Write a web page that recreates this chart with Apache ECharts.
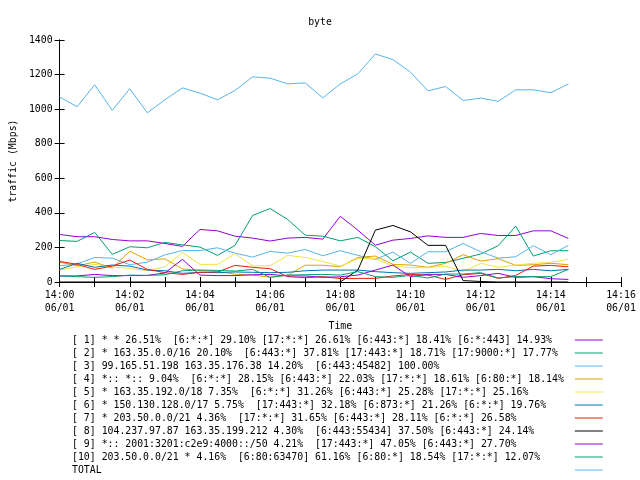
<!DOCTYPE html>
<html>
<head>
<meta charset="utf-8">
<script src="https://cdn.jsdelivr.net/npm/echarts@6/dist/echarts.min.js"></script>
<style>
html,body{margin:0;padding:0;background:#fff;}
#chart{width:640px;height:480px;}
</style>
</head>
<body>
<div id="chart"></div>
<script>
const chartTitle = 'byte';
const dateLabel = '06/01';
const xTickLabels = ['14:00','14:02','14:04','14:06','14:08','14:10','14:12','14:14','14:16'];
const yTicks = [0, 200, 400, 600, 800, 1000, 1200, 1400];
const times = ['14:00:00','14:00:30','14:01:00','14:01:30','14:02:00','14:02:30','14:03:00','14:03:30','14:04:00','14:04:30',
               '14:05:00','14:05:30','14:06:00','14:06:30','14:07:00','14:07:30','14:08:00','14:08:30','14:09:00','14:09:30',
               '14:10:00','14:10:30','14:11:00','14:11:30','14:12:00','14:12:30','14:13:00','14:13:30','14:14:00','14:14:30'];

const names = [
  '[ 1] * * 26.51%  [6:*:*] 29.10% [17:*:*] 26.61% [6:443:*] 18.41% [6:*:443] 14.93%',
  '[ 2] * 163.35.0.0/16 20.10%  [6:443:*] 37.81% [17:443:*] 18.71% [17:9000:*] 17.77%',
  '[ 3] 99.165.51.198 163.35.176.38 14.20%  [6:443:45482] 100.00%',
  '[ 4] *:: *:: 9.04%  [6:*:*] 28.15% [6:443:*] 22.03% [17:*:*] 18.61% [6:80:*] 18.14%',
  '[ 5] * 163.35.192.0/18 7.35%  [6:*:*] 31.26% [6:443:*] 25.28% [17:*:*] 25.16%',
  '[ 6] * 150.130.128.0/17 5.75%  [17:443:*] 32.18% [6:873:*] 21.26% [6:*:*] 19.76%',
  '[ 7] * 203.50.0.0/21 4.36%  [17:*:*] 31.65% [6:443:*] 28.11% [6:*:*] 26.58%',
  '[ 8] 104.237.97.87 163.35.199.212 4.30%  [6:443:55434] 37.50% [6:443:*] 24.14%',
  '[ 9] *:: 2001:3201:c2e9:4000::/50 4.21%  [17:443:*] 47.05% [6:443:*] 27.70%',
  '[10] 203.50.0.0/21 * 4.16%  [6:80:63470] 61.16% [6:80:*] 18.54% [17:*:*] 12.07%',
  'TOTAL'
];
const colors = ['#9400d3','#009e73','#56b4e9','#e69f00','#f0e442','#0072b2','#e51e10','#000000','#9400d3','#009e73','#56b4e9'];

const s1 = [275,262,262,246,238,238,223,206,304,296,265,254,237,254,258,248,380,300,213,242,252,267,258,258,281,269,269,296,296,252];
const s2 = [240,235,287,160,204,198,229,215,202,154,212,385,425,362,271,265,238,258,204,123,173,108,113,137,162,210,323,150,181,181];
const s3 = [94,105,142,138,100,115,157,182,182,198,167,144,177,167,188,152,181,154,131,173,108,175,175,223,175,138,146,210,158,212];
const s4 = [115,94,115,80,178,128,134,76,67,62,45,40,28,39,97,97,88,142,150,102,98,85,108,158,121,135,96,100,108,100];
const s5 = [69,88,102,87,79,65,88,171,102,102,163,94,94,154,142,119,92,135,135,92,83,83,92,60,108,85,98,108,115,131];
const s6 = [73,108,85,98,92,69,65,50,56,54,58,56,54,56,65,69,69,69,60,54,50,54,58,69,69,73,65,73,65,73];
const s7 = [119,102,73,92,127,73,54,44,56,58,96,85,77,31,25,31,20,21,21,35,44,40,15,42,50,21,38,92,96,88];
const s8 = [0,0,0,0,0,0,0,0,0,0,0,0,0,0,0,0,0,69,300,327,290,212,212,8,3,0,0,0,0,0];
const s9 = [35,35,44,37,37,38,52,131,40,37,37,42,44,35,35,27,30,40,69,98,31,44,44,27,37,50,27,31,19,15];
const s10 = [35,31,27,31,40,38,42,65,69,67,63,73,27,40,42,44,40,60,31,27,38,23,46,46,54,23,31,31,31,73];
const total = [1070,1014,1141,993,1118,979,1054,1123,1093,1054,1108,1187,1179,1146,1152,1065,1146,1204,1319,1287,1214,1106,1131,1050,1064,1045,1112,1112,1095,1146];

const seriesValues = [s1,s2,s3,s4,s5,s6,s7,s8,s9,s10,total];

function toMinutes(t) {
  const p = t.split(':').map(Number);
  return p[0] * 60 + p[1] + p[2] / 60 - 14 * 60;
}
const xs = times.map(toMinutes);

const FONT = "'DejaVu Sans Mono', monospace";
const FS = 9.85;
const chart = echarts.init(document.getElementById('chart'), null, {renderer: 'canvas'});

const series = seriesValues.map((vals, k) => ({
  name: names[k],
  type: 'line',
  xAxisIndex: 0,
  yAxisIndex: 0,
  data: vals.map((v, i) => [xs[i], v]),
  symbol: 'none',
  animation: false,
  lineStyle: {width: 1, color: colors[k]},
  itemStyle: {color: colors[k]}
}));

const tickStyle = {show: true, inside: true, length: 5, lineStyle: {color: '#000', width: 1}};
const axisLineStyle = {show: true, lineStyle: {color: '#000', width: 1}};

chart.setOption({
  animation: false,
  backgroundColor: '#fff',
  title: {
    text: chartTitle, left: 'center', top: 12,
    textStyle: {fontFamily: FONT, fontSize: FS, fontWeight: 'normal', color: '#000'}
  },
  grid: {left: 58, right: 19, top: 40, height: 242, containLabel: false},
  legend: {
    orient: 'vertical', left: 72, top: 333.5, padding: 0, itemGap: 0,
    align: 'right', icon: 'rect', itemWidth: 28, itemHeight: 1,
    data: names,
    formatter: n => n.padEnd(84, ' '),
    textStyle: {fontFamily: FONT, fontSize: FS, color: '#000', lineHeight: 13},
    selectedMode: false
  },
  xAxis: [
    {
      type: 'value', min: 0, max: 16, interval: 1, position: 'bottom',
      name: 'Time', nameLocation: 'middle', nameGap: 39,
      nameTextStyle: {fontFamily: FONT, fontSize: FS, color: '#000'},
      axisLine: axisLineStyle, axisTick: tickStyle, splitLine: {show: false},
      axisLabel: {
        fontFamily: FONT, fontSize: FS, color: '#000', lineHeight: 13, margin: 7,
        showMinLabel: true, showMaxLabel: true,
        formatter: v => (v % 2 === 0 ? xTickLabels[v / 2] + '\n' + dateLabel : '')
      }
    },
    {
      type: 'value', min: 0, max: 16, interval: 1, position: 'top',
      axisLine: axisLineStyle, axisTick: tickStyle, splitLine: {show: false},
      axisLabel: {show: false}
    }
  ],
  yAxis: [
    {
      type: 'value', min: yTicks[0], max: yTicks[yTicks.length - 1], interval: yTicks[1] - yTicks[0],
      position: 'left',
      name: 'traffic (Mbps)', nameLocation: 'middle', nameGap: 40, nameRotate: 90,
      nameTextStyle: {fontFamily: FONT, fontSize: FS, color: '#000'},
      axisLine: axisLineStyle, axisTick: tickStyle, splitLine: {show: false},
      axisLabel: {fontFamily: FONT, fontSize: FS, color: '#000', margin: 7, formatter: v => String(v)}
    },
    {
      type: 'value', min: yTicks[0], max: yTicks[yTicks.length - 1], interval: yTicks[1] - yTicks[0],
      position: 'right',
      axisLine: axisLineStyle, axisTick: tickStyle, splitLine: {show: false},
      axisLabel: {show: false}
    }
  ],
  series: series
});
</script>
</body>
</html>
